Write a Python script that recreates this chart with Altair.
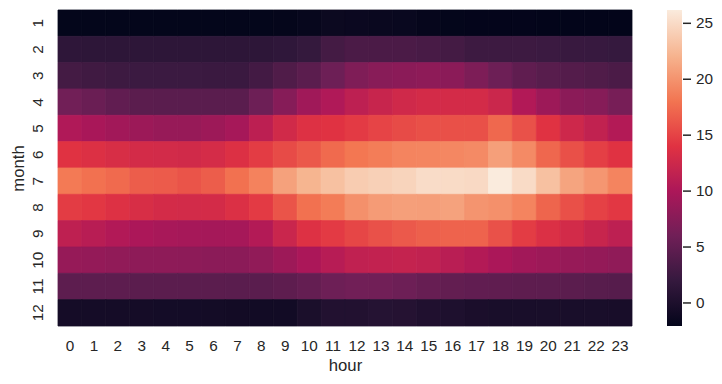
import altair as alt
import pandas as pd

hours = list(range(24))
months = list(range(1, 13))

m1 = [-1.95, -1.95, -1.95, -1.95, -1.95, -1.95, -1.95, -1.95, -1.95, -1.9, -1.7, -1.35, -1.4, -1.5, -1.55, -1.85, -1.95, -2.0, -2.0, -2.0, -2.05, -2.05, -2.06, -2.06]
m2 = [1.45, 1.35, 1.3, 1.3, 1.3, 1.3, 1.3, 1.3, 1.35, 1.5, 1.9, 3.0, 3.5, 3.5, 3.5, 3.3, 3.0, 2.5, 2.5, 2.5, 2.4, 2.2, 2.1, 2.0]
m3 = [3.0, 2.7, 2.5, 2.4, 2.4, 2.4, 2.3, 2.3, 2.9, 3.8, 4.6, 5.8, 7.0, 7.6, 7.8, 8.0, 7.8, 6.9, 5.8, 4.9, 4.4, 4.1, 3.8, 3.5]
m4 = [6.1, 5.6, 5.0, 4.6, 4.5, 4.5, 4.5, 4.5, 5.8, 7.5, 9.2, 10.3, 11.3, 12.1, 12.7, 13.0, 13.0, 13.0, 12.3, 10.4, 9.0, 7.8, 7.5, 6.5]
m5 = [10.3, 9.8, 9.3, 8.9, 8.6, 8.6, 9.0, 9.6, 11.2, 12.8, 13.8, 14.0, 14.5, 15.1, 15.5, 15.8, 15.8, 15.8, 17.3, 15.9, 14.0, 12.5, 11.6, 10.5]
m6 = [14.0, 13.7, 13.3, 13.0, 12.9, 12.8, 13.1, 13.7, 14.6, 15.5, 16.3, 17.4, 18.2, 18.6, 19.0, 19.1, 19.2, 19.4, 20.8, 19.4, 17.2, 15.8, 14.8, 14.0]
m7 = [18.4, 17.8, 17.4, 16.6, 16.5, 16.1, 16.6, 17.8, 18.9, 20.9, 22.2, 23.1, 23.9, 24.2, 24.5, 25.1, 25.0, 24.9, 26.19, 25.0, 23.1, 21.1, 20.2, 19.0]
m8 = [14.6, 14.3, 13.8, 13.3, 13.0, 12.9, 13.0, 13.6, 14.5, 16.1, 17.8, 18.5, 19.8, 20.5, 20.8, 20.7, 21.0, 20.1, 19.8, 19.0, 17.1, 15.8, 14.9, 14.3]
m9 = [11.4, 10.9, 10.4, 10.0, 9.7, 9.6, 9.5, 9.6, 10.5, 12.2, 13.8, 14.5, 15.2, 15.9, 16.4, 16.8, 17.0, 17.0, 15.9, 14.6, 13.6, 12.9, 12.1, 11.3]
m10 = [8.5, 8.4, 8.2, 8.0, 8.0, 7.9, 7.8, 7.8, 8.2, 9.0, 9.9, 10.8, 11.5, 11.7, 11.8, 11.6, 11.0, 10.5, 9.9, 9.3, 9.0, 8.6, 8.4, 8.1]
m11 = [4.7, 4.7, 4.7, 4.6, 4.6, 4.6, 4.6, 4.5, 4.5, 4.8, 5.2, 5.8, 6.1, 6.1, 5.8, 5.4, 5.1, 5.0, 4.9, 4.8, 4.7, 4.6, 4.4, 4.2]
m12 = [-0.6, -0.6, -0.6, -0.6, -0.65, -0.65, -0.7, -0.8, -0.85, -0.85, -0.1, 0.45, 0.45, 0.7, 0.65, 0.25, 0.15, -0.15, -0.25, -0.25, -0.25, -0.25, -0.3, -0.35]

rows = [m1, m2, m3, m4, m5, m6, m7, m8, m9, m10, m11, m12]
legend_ticks = [0, 5, 10, 15, 20, 25]
value_domain = [-2.06, 26.19]

rocket = ["#03051a", "#35193e", "#701f57", "#ad1759", "#e13342", "#f37651", "#f6b48f", "#faebdd"]

records = []
for mi, row in zip(months, rows):
    for h, v in zip(hours, row):
        records.append({"month": mi, "hour": h, "value": v})
df = pd.DataFrame(records)

FONT = "Liberation Sans"
TXT = "#262626"

heat = alt.Chart(df).mark_rect(
    strokeWidth=0.8, stroke=alt.ExprRef("scale('color', datum.value)")
).encode(
    x=alt.X("hour:O", sort=hours, title="hour",
            axis=alt.Axis(labelAngle=0, ticks=False, tickSize=0, domain=False,
                          labelPadding=12, titlePadding=4.5)),
    y=alt.Y("month:O", sort=months, title="month",
            axis=alt.Axis(labelAngle=270, labelAlign="center", labelBaseline="bottom",
                          ticks=False, tickSize=0, domain=False,
                          labelPadding=13, titlePadding=3)),
    color=alt.Color("value:Q",
                    scale=alt.Scale(domain=value_domain, range=rocket, interpolate="rgb"),
                    legend=alt.Legend(type="gradient", title=None, orient="right", offset=35,
                                      gradientLength=316, gradientThickness=15,
                                      gradientStrokeWidth=0, labelOffset=14,
                                      values=legend_ticks, labelFontSize=15.3,
                                      labelFont=FONT, labelColor=TXT, padding=0)),
)

tick_df = pd.DataFrame({"v": legend_ticks})
cbar_ticks = alt.Chart(tick_df).mark_rule(stroke=TXT, strokeWidth=1.5).encode(
    y=alt.Y("v:Q", scale=alt.Scale(domain=value_domain, nice=False, zero=False), axis=None),
    x=alt.value(625),
    x2=alt.value(633),
)

chart = alt.layer(heat, cbar_ticks).resolve_scale(y="independent").properties(
    width=574, height=316,
    autosize="none",
    padding={"left": 58, "top": 10, "right": 90, "bottom": 58},
    background="white",
).configure_view(strokeWidth=0).configure_axis(
    labelFont=FONT, titleFont=FONT, labelFontSize=15.3, titleFontSize=16.7,
    labelColor=TXT, titleColor=TXT, titleFontWeight="normal", grid=False,
)

chart.save("out.html", embed_options={"renderer": "svg", "actions": False})
